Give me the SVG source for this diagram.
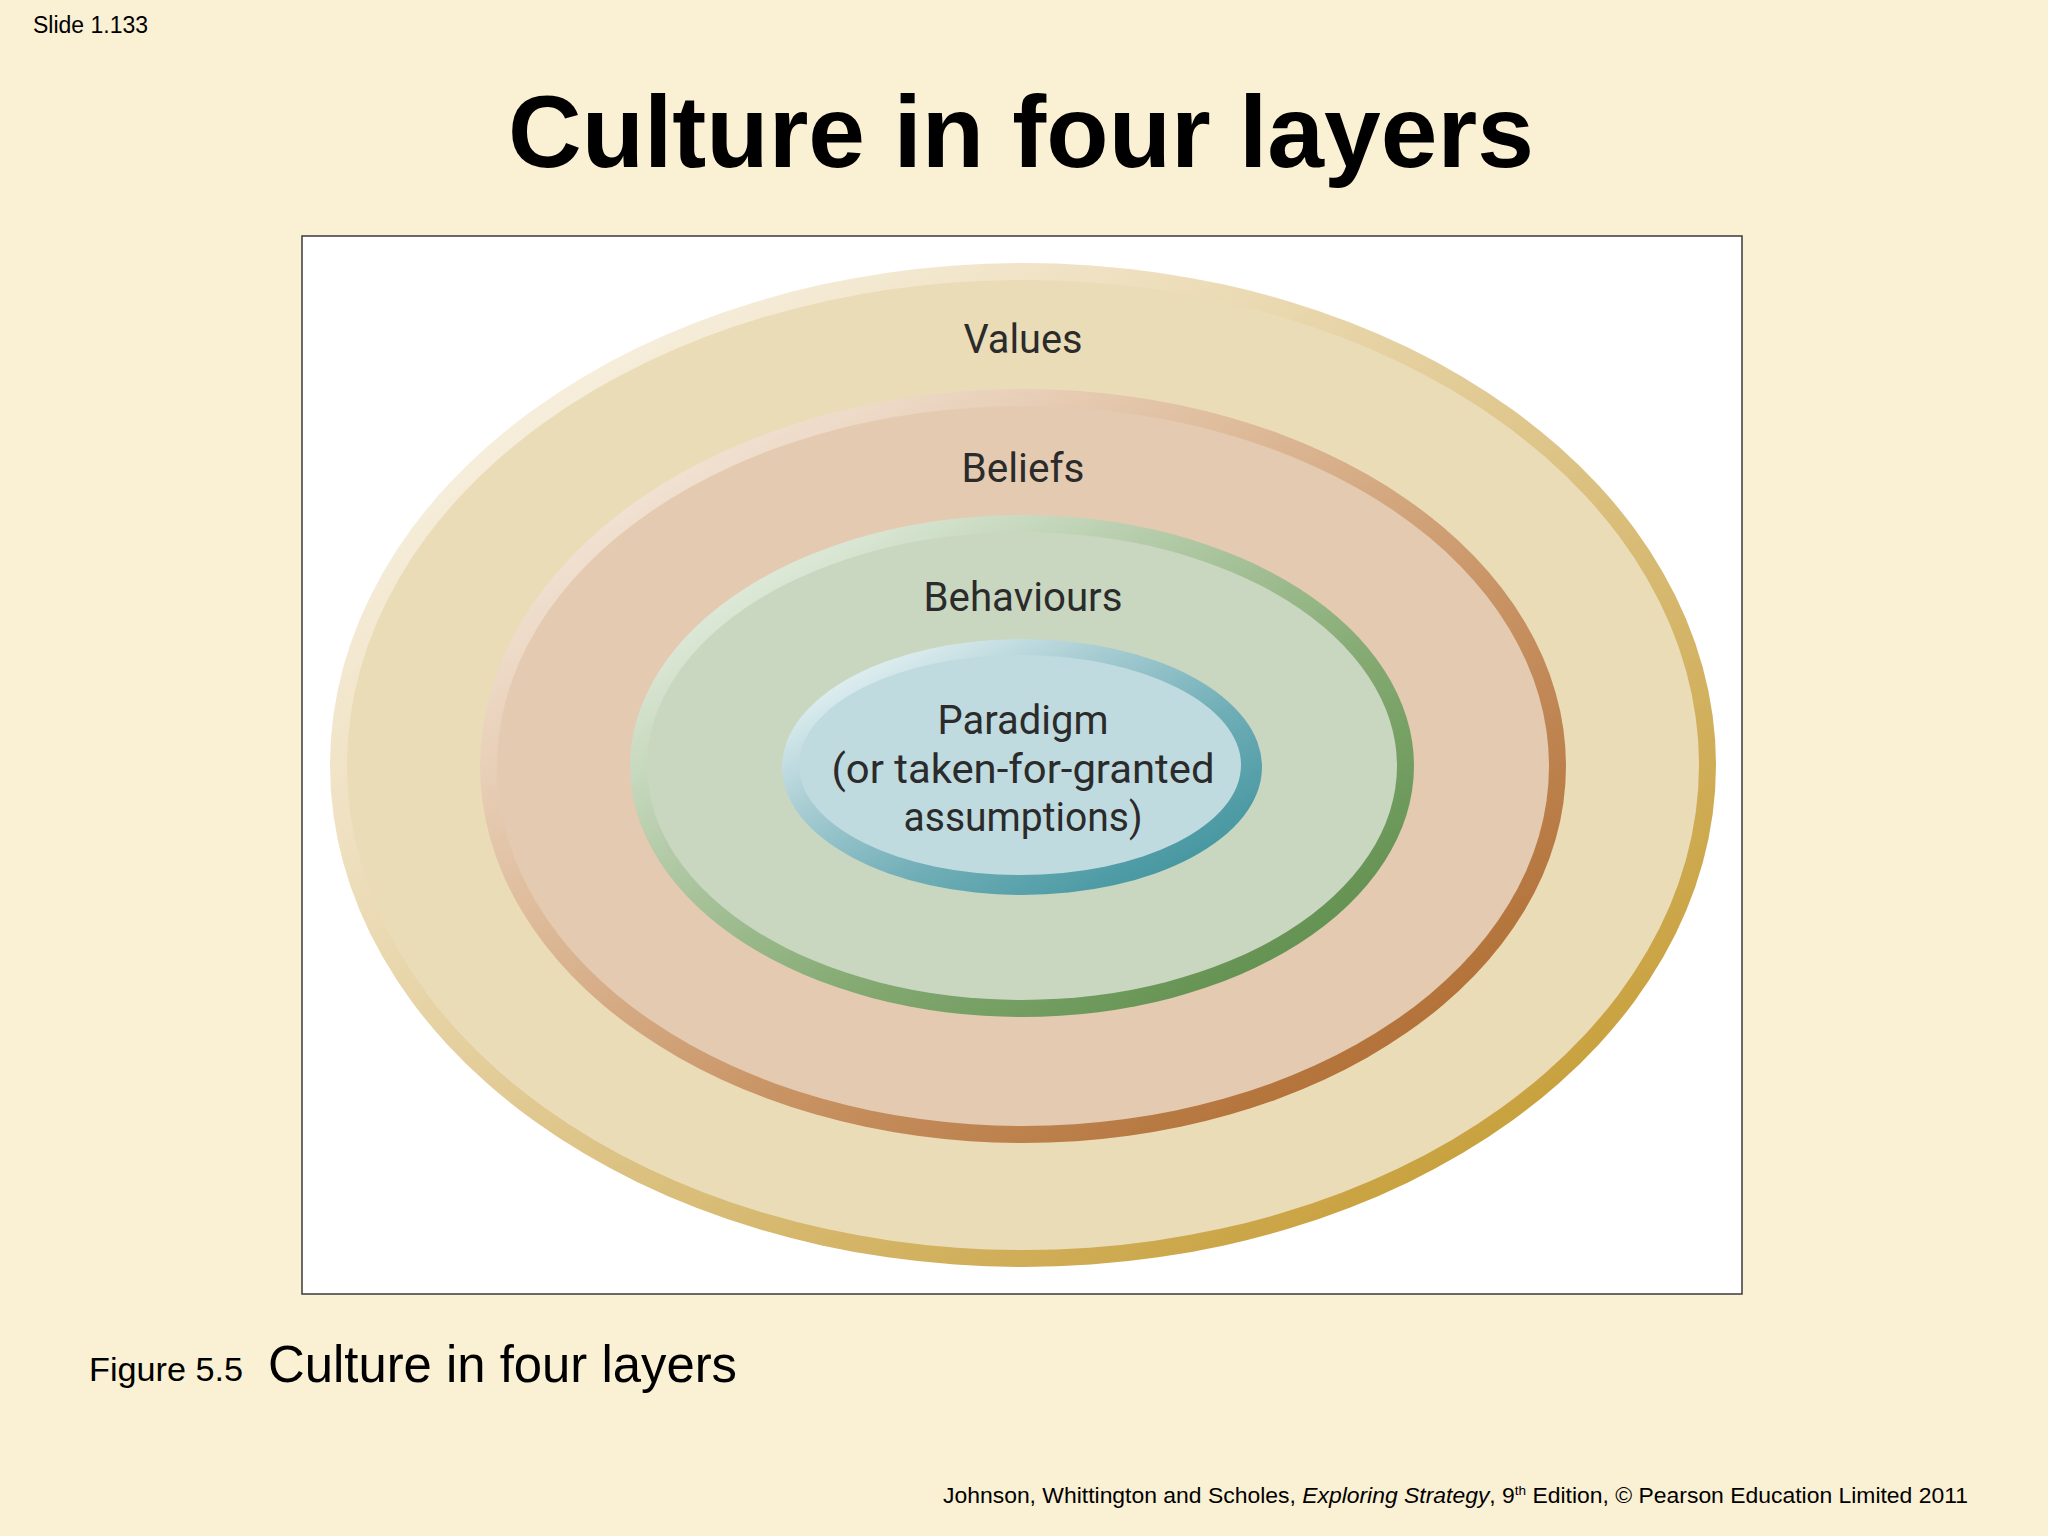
<svg xmlns="http://www.w3.org/2000/svg" width="2048" height="1536" viewBox="0 0 2048 1536">
  <style>
    .sans { font-family: "Liberation Sans", Arial, sans-serif; fill: #000; }
    .lbl { font-family: Roboto, "DejaVu Sans", sans-serif; font-size: 40px; fill: #2b2b2b; text-anchor: middle; }
  </style>
  <defs>
    <linearGradient id="gVal" x1="0" y1="0" x2="1" y2="1">
      <stop offset="0.05" stop-color="#FBF7EE"/>
      <stop offset="0.3" stop-color="#EEDFBE"/>
      <stop offset="0.55" stop-color="#DCC283"/>
      <stop offset="0.85" stop-color="#C9A240"/>
    </linearGradient>
    <linearGradient id="gBel" x1="0" y1="0" x2="1" y2="1">
      <stop offset="0.08" stop-color="#F6ECE2"/>
      <stop offset="0.35" stop-color="#E0BFA0"/>
      <stop offset="0.6" stop-color="#C99465"/>
      <stop offset="0.85" stop-color="#B3733A"/>
    </linearGradient>
    <linearGradient id="gBeh" x1="0" y1="0" x2="1" y2="1">
      <stop offset="0.08" stop-color="#EAF2E6"/>
      <stop offset="0.35" stop-color="#B5CCAA"/>
      <stop offset="0.6" stop-color="#86AB74"/>
      <stop offset="0.85" stop-color="#659353"/>
    </linearGradient>
    <linearGradient id="gPar" x1="0" y1="0" x2="1" y2="1">
      <stop offset="0.08" stop-color="#EEF7F8"/>
      <stop offset="0.35" stop-color="#A8CDD3"/>
      <stop offset="0.6" stop-color="#70AEB7"/>
      <stop offset="0.85" stop-color="#4898A2"/>
    </linearGradient>
  </defs>

  <rect x="0" y="0" width="2048" height="1536" fill="#FAF0D3"/>

  <g id="slide-number">
    <text class="sans" x="33" y="33" font-size="23">Slide 1.133</text>
  </g>

  <g id="title">
    <text class="sans" x="1021" y="167" font-size="102" font-weight="bold" text-anchor="middle">Culture in four layers</text>
  </g>

  <g id="figure-frame">
    <rect x="302" y="236" width="1440" height="1058" fill="#FFFFFF" stroke="#3a3a3a" stroke-width="1.5"/>
  </g>

  <g id="node-values">
    <ellipse cx="1023" cy="765" rx="693" ry="502" fill="url(#gVal)"/>
    <ellipse cx="1023" cy="765" rx="676" ry="485" fill="#EBDCB8"/>
    <text class="lbl" x="1023" y="353" textLength="119" lengthAdjust="spacingAndGlyphs">Values</text>
  </g>

  <g id="node-beliefs">
    <ellipse cx="1023" cy="766" rx="543" ry="377" fill="url(#gBel)"/>
    <ellipse cx="1023" cy="766" rx="526" ry="360" fill="#E4CAB0"/>
    <text class="lbl" x="1023" y="482" textLength="123" lengthAdjust="spacingAndGlyphs">Beliefs</text>
  </g>

  <g id="node-behaviours">
    <ellipse cx="1022" cy="766" rx="392" ry="251" fill="url(#gBeh)"/>
    <ellipse cx="1022" cy="766" rx="375" ry="234" fill="#C9D7C0"/>
    <text class="lbl" x="1023" y="611" textLength="199" lengthAdjust="spacingAndGlyphs">Behaviours</text>
  </g>

  <g id="node-paradigm">
    <ellipse cx="1022" cy="767" rx="240" ry="128" fill="url(#gPar)"/>
    <ellipse cx="1020" cy="765" rx="221" ry="110" fill="#C0DBDF"/>
    <text class="lbl" x="1023" y="734" textLength="171" lengthAdjust="spacingAndGlyphs">Paradigm</text>
    <text class="lbl" x="1023" y="783" textLength="383" lengthAdjust="spacingAndGlyphs">(or taken-for-granted</text>
    <text class="lbl" x="1023" y="831" textLength="239" lengthAdjust="spacingAndGlyphs">assumptions)</text>
  </g>

  <g id="connectors"/>

  <g id="caption">
    <text class="sans" x="89" y="1381" font-size="34" textLength="154" lengthAdjust="spacingAndGlyphs">Figure 5.5</text>
    <text class="sans" x="268" y="1382" font-size="52" textLength="469" lengthAdjust="spacingAndGlyphs">Culture in four layers</text>
  </g>

  <g id="footer">
    <text class="sans" x="1968" y="1503" font-size="22" text-anchor="end" textLength="1025" lengthAdjust="spacingAndGlyphs">Johnson, Whittington and Scholes, <tspan font-style="italic">Exploring Strategy</tspan>, 9<tspan font-size="13" dy="-8">th</tspan><tspan dy="8"> Edition, © Pearson Education Limited 2011</tspan></text>
  </g>
</svg>
